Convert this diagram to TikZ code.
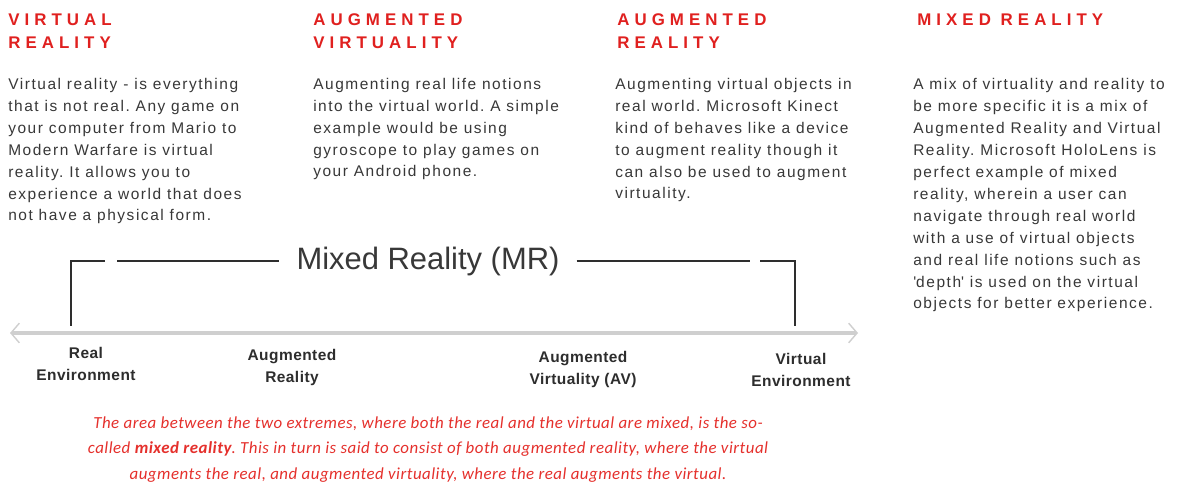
\documentclass[tikz,border=0pt]{standalone}
\usepackage{fontspec}
\setmainfont{Liberation Sans}
\newfontfamily\headfont[LetterSpace=30]{Liberation Sans}
\newfontfamily\bodyfont[LetterSpace=10]{Liberation Sans}
\newfontfamily\labfont[LetterSpace=3]{Liberation Sans}
\newfontfamily\notefont[LetterSpace=3]{Carlito}
\usetikzlibrary{arrows.meta,positioning}
\definecolor{cRED}{HTML}{E0201F}
\definecolor{cNOTE}{HTML}{E5302C}
\definecolor{cTXT}{HTML}{383838}
\definecolor{cBRK}{HTML}{2E2E2E}
\definecolor{cAXIS}{HTML}{CFCFCF}
\frenchspacing

\begin{document}
\begin{tikzpicture}[>=Stealth,
  head/.style={anchor=base west, inner sep=0pt, align=left, text=cRED, font={\headfont\bfseries\fontsize{12}{16.4}\selectfont}},
  body/.style={anchor=base west, inner sep=0pt, align=left, text=cTXT, font={\bodyfont\fontsize{11}{15.6}\selectfont}},
  lab/.style={anchor=base, inner sep=0pt, align=center, text=cTXT!80!black, font={\labfont\bfseries\fontsize{11}{15.6}\selectfont}},
  brk/.style={draw=cBRK, line width=1.8pt}]
\useasboundingbox[fill=white] (0,0) rectangle (29.5,-12.45);
% four columns (base = last line)
\node[head] (hVR) at (0.2,-1.225) {VIRTUAL\\REALITY};
\node[head] (hAV) at (7.825,-1.225) {AUGMENTED\\VIRTUALITY};
\node[head] (hAR) at (15.425,-1.225) {AUGMENTED\\REALITY};
\node[head] (hMR) at (22.925,-0.65) {MIXED REALITY};
\node[body] (bVR) at (0.2,-5.525) {Virtual reality - is everything\\that is not real. Any game on\\your computer from Mario to\\Modern Warfare is virtual\\reality. It allows you to\\experience a world that does\\not have a physical form.};
\node[body] (bAV) at (7.825,-4.425) {Augmenting real life notions\\into the virtual world. A simple\\example would be using\\gyroscope to play games on\\your Android phone.};
\node[body] (bAR) at (15.375,-4.975) {Augmenting virtual objects in\\real world. Microsoft Kinect\\kind of behaves like a device\\to augment reality though it\\can also be used to augment\\virtuality.};
\node[body] (bMR) at (22.825,-7.725) {A mix of virtuality and reality to\\be more specific it is a mix of\\Augmented Reality and Virtual\\Reality. Microsoft HoloLens is\\perfect example of mixed\\reality, wherein a user can\\navigate through real world\\with a use of virtual objects\\and real life notions such as\\\textquotesingle depth\textquotesingle\ is used on the virtual\\objects for better experience.};
% continuum
\coordinate (axL) at (0.25,-8.325);
\coordinate (axR) at (21.45,-8.325);
\draw[line width=3.5pt, draw=cAXIS, {Straight Barb[length=6pt,width=14pt,line width=1pt]}-{Straight Barb[length=6pt,width=14pt,line width=1pt]}] (axL) -- (axR);
\node[inner xsep=0.42cm, inner ysep=0pt, text=cTXT, font=\fontsize{22}{26}\selectfont] (mr) at (10.7,-6.55) {Mixed Reality (MR)};
\coordinate (lbot) at (1.775,-8.15);
\coordinate (ltop) at (1.775,-6.525);
\coordinate (lend) at (2.625,-6.525);
\coordinate (lgo) at (2.925,-6.525);
\coordinate (rgo) at (18.75,-6.525);
\coordinate (rst) at (19.0,-6.525);
\coordinate (rtop) at (19.875,-6.525);
\coordinate (rbot) at (19.875,-8.15);
\draw[brk] (lbot) -- (ltop) -- (lend);
\draw[brk] (lgo) -- (lgo -| mr.west);
\draw[brk] (rgo -| mr.east) -- (rgo);
\draw[brk] (rst) -- (rtop) -- (rbot);
\node[lab] (lRE) at (2.15,-9.5) {Real\\Environment};
\node[lab] (lAR) at (7.3,-9.55) {Augmented\\Reality};
\node[lab] (lAV) at (14.575,-9.6) {Augmented\\Virtuality (AV)};
\node[lab] (lVE) at (20.025,-9.65) {Virtual\\Environment};
% note
\node[anchor=base, inner sep=0pt, align=center, text=cNOTE, font={\notefont\itshape\fontsize{12}{17.8}\selectfont}] (note) at (10.7,-11.975) {The area between the two extremes, where both the real and the virtual are mixed, is the so-\\called \textbf{mixed reality}. This in turn is said to consist of both augmented reality, where the virtual\\augments the real, and augmented virtuality, where the real augments the virtual.};
\end{tikzpicture}
\end{document}
